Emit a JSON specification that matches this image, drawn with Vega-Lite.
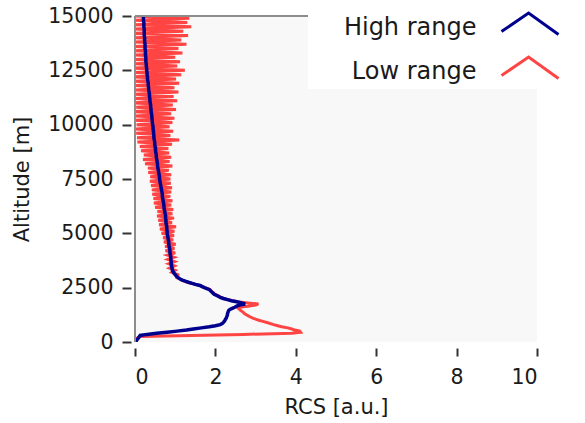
{
  "$schema": "https://vega.github.io/schema/vega-lite/v6.json",
  "width": 402,
  "height": 326,
  "autosize": {"type": "none"},
  "padding": {"left": 135, "top": 16, "right": 48, "bottom": 81},
  "background": "#ffffff",
  "config": {
    "font": "DejaVu Sans",
    "view": {"fill": "#f8f8f8", "stroke": null},
    "axis": {
      "labelFont": "DejaVu Sans",
      "labelFontSize": 20.5,
      "labelColor": "#1a1a1a",
      "titleFont": "DejaVu Sans",
      "titleFontSize": 21,
      "titleFontWeight": "normal",
      "titleColor": "#1a1a1a",
      "tickColor": "#333333",
      "tickWidth": 2,
      "domain": false,
      "grid": false
    }
  },
  "datasets": {
    "profile": [
      {"alt": 0, "high": 0.0, "low": 0.0},
      {"alt": 50, "high": 0.03, "low": 0.02},
      {"alt": 100, "high": 0.05, "low": 0.03},
      {"alt": 150, "high": 0.07, "low": 0.05},
      {"alt": 200, "high": 0.09, "low": 0.07},
      {"alt": 250, "high": 0.11, "low": 0.12},
      {"alt": 300, "high": 0.13, "low": 1.4},
      {"alt": 350, "high": 0.3, "low": 2.7},
      {"alt": 400, "high": 0.54, "low": 3.9},
      {"alt": 450, "high": 0.8, "low": 4.12},
      {"alt": 500, "high": 1.05, "low": 4.1},
      {"alt": 550, "high": 1.28, "low": 3.98},
      {"alt": 600, "high": 1.45, "low": 3.9},
      {"alt": 650, "high": 1.65, "low": 3.8},
      {"alt": 700, "high": 1.85, "low": 3.65},
      {"alt": 750, "high": 2.0, "low": 3.55},
      {"alt": 800, "high": 2.12, "low": 3.45},
      {"alt": 850, "high": 2.17, "low": 3.36},
      {"alt": 900, "high": 2.2, "low": 3.28},
      {"alt": 950, "high": 2.22, "low": 3.18},
      {"alt": 1000, "high": 2.24, "low": 3.08},
      {"alt": 1050, "high": 2.25, "low": 3.0},
      {"alt": 1100, "high": 2.27, "low": 2.93},
      {"alt": 1150, "high": 2.28, "low": 2.87},
      {"alt": 1200, "high": 2.29, "low": 2.82},
      {"alt": 1250, "high": 2.3, "low": 2.77},
      {"alt": 1300, "high": 2.3, "low": 2.73},
      {"alt": 1350, "high": 2.31, "low": 2.7},
      {"alt": 1400, "high": 2.32, "low": 2.67},
      {"alt": 1450, "high": 2.33, "low": 2.63},
      {"alt": 1500, "high": 2.36, "low": 2.6},
      {"alt": 1550, "high": 2.42, "low": 2.57},
      {"alt": 1600, "high": 2.48, "low": 2.6},
      {"alt": 1650, "high": 2.53, "low": 2.8},
      {"alt": 1700, "high": 2.6, "low": 3.0},
      {"alt": 1750, "high": 2.74, "low": 3.07},
      {"alt": 1800, "high": 2.65, "low": 2.8},
      {"alt": 1850, "high": 2.53, "low": 2.55},
      {"alt": 1900, "high": 2.4, "low": 2.42},
      {"alt": 1950, "high": 2.3, "low": 2.32},
      {"alt": 2000, "high": 2.2, "low": 2.2},
      {"alt": 2050, "high": 2.12, "low": 2.15},
      {"alt": 2100, "high": 2.08, "low": 2.08},
      {"alt": 2150, "high": 2.02, "low": 2.05},
      {"alt": 2200, "high": 1.97, "low": 1.98},
      {"alt": 2250, "high": 1.94, "low": 1.96},
      {"alt": 2300, "high": 1.91, "low": 1.92},
      {"alt": 2350, "high": 1.88, "low": 1.9},
      {"alt": 2400, "high": 1.86, "low": 1.87},
      {"alt": 2450, "high": 1.8, "low": 1.82},
      {"alt": 2500, "high": 1.73, "low": 1.72},
      {"alt": 2550, "high": 1.67, "low": 1.68},
      {"alt": 2600, "high": 1.62, "low": 1.6},
      {"alt": 2650, "high": 1.5, "low": 1.52},
      {"alt": 2700, "high": 1.42, "low": 1.4},
      {"alt": 2750, "high": 1.33, "low": 1.3},
      {"alt": 2800, "high": 1.25, "low": 1.22},
      {"alt": 2850, "high": 1.18, "low": 1.15},
      {"alt": 2900, "high": 1.12, "low": 1.12},
      {"alt": 2950, "high": 1.08, "low": 1.05},
      {"alt": 3000, "high": 1.04, "low": 1.06},
      {"alt": 3100, "high": 1.0, "low": 1.07},
      {"alt": 3200, "high": 0.96, "low": 0.92},
      {"alt": 3300, "high": 0.93, "low": 1.0},
      {"alt": 3400, "high": 0.92, "low": 0.86},
      {"alt": 3500, "high": 0.91, "low": 0.98},
      {"alt": 3600, "high": 0.9, "low": 0.84},
      {"alt": 3700, "high": 0.9, "low": 0.98},
      {"alt": 3800, "high": 0.89, "low": 0.82},
      {"alt": 3900, "high": 0.89, "low": 0.97},
      {"alt": 4000, "high": 0.88, "low": 0.81},
      {"alt": 4100, "high": 0.87, "low": 1.0},
      {"alt": 4200, "high": 0.87, "low": 0.76},
      {"alt": 4300, "high": 0.86, "low": 0.98},
      {"alt": 4400, "high": 0.85, "low": 0.75},
      {"alt": 4500, "high": 0.84, "low": 1.01},
      {"alt": 4600, "high": 0.84, "low": 0.72},
      {"alt": 4700, "high": 0.83, "low": 0.95},
      {"alt": 4800, "high": 0.82, "low": 0.7},
      {"alt": 4900, "high": 0.81, "low": 0.97},
      {"alt": 5000, "high": 0.8, "low": 0.66},
      {"alt": 5100, "high": 0.8, "low": 0.98},
      {"alt": 5200, "high": 0.79, "low": 0.62},
      {"alt": 5300, "high": 0.79, "low": 1.02},
      {"alt": 5400, "high": 0.78, "low": 0.6},
      {"alt": 5500, "high": 0.77, "low": 0.92},
      {"alt": 5600, "high": 0.77, "low": 0.58},
      {"alt": 5700, "high": 0.76, "low": 0.97},
      {"alt": 5800, "high": 0.76, "low": 0.55},
      {"alt": 5900, "high": 0.75, "low": 0.93},
      {"alt": 6000, "high": 0.74, "low": 0.56},
      {"alt": 6100, "high": 0.73, "low": 0.95},
      {"alt": 6200, "high": 0.72, "low": 0.5},
      {"alt": 6300, "high": 0.72, "low": 0.9},
      {"alt": 6400, "high": 0.71, "low": 0.47},
      {"alt": 6500, "high": 0.7, "low": 0.93},
      {"alt": 6600, "high": 0.69, "low": 0.46},
      {"alt": 6700, "high": 0.68, "low": 0.88},
      {"alt": 6800, "high": 0.68, "low": 0.43},
      {"alt": 6900, "high": 0.67, "low": 0.9},
      {"alt": 7000, "high": 0.66, "low": 0.42},
      {"alt": 7100, "high": 0.65, "low": 0.92},
      {"alt": 7200, "high": 0.64, "low": 0.4},
      {"alt": 7300, "high": 0.63, "low": 0.89},
      {"alt": 7400, "high": 0.62, "low": 0.37},
      {"alt": 7500, "high": 0.61, "low": 0.88},
      {"alt": 7600, "high": 0.61, "low": 0.38},
      {"alt": 7700, "high": 0.6, "low": 0.9},
      {"alt": 7800, "high": 0.59, "low": 0.33},
      {"alt": 7900, "high": 0.58, "low": 0.84},
      {"alt": 8000, "high": 0.57, "low": 0.32},
      {"alt": 8100, "high": 0.56, "low": 0.93},
      {"alt": 8200, "high": 0.56, "low": 0.25},
      {"alt": 8300, "high": 0.55, "low": 0.86},
      {"alt": 8400, "high": 0.54, "low": 0.2},
      {"alt": 8500, "high": 0.53, "low": 0.9},
      {"alt": 8600, "high": 0.53, "low": 0.22},
      {"alt": 8700, "high": 0.52, "low": 0.85},
      {"alt": 8800, "high": 0.51, "low": 0.15},
      {"alt": 8900, "high": 0.51, "low": 0.83},
      {"alt": 9000, "high": 0.5, "low": 0.12},
      {"alt": 9100, "high": 0.49, "low": 0.92},
      {"alt": 9200, "high": 0.49, "low": 0.06},
      {"alt": 9300, "high": 0.48, "low": 1.1},
      {"alt": 9400, "high": 0.47, "low": 0.05},
      {"alt": 9500, "high": 0.47, "low": 0.88},
      {"alt": 9600, "high": 0.46, "low": 0.03},
      {"alt": 9700, "high": 0.46, "low": 0.95},
      {"alt": 9800, "high": 0.45, "low": 0.02},
      {"alt": 9900, "high": 0.45, "low": 0.86},
      {"alt": 10000, "high": 0.44, "low": 0.04},
      {"alt": 10100, "high": 0.43, "low": 0.93},
      {"alt": 10200, "high": 0.43, "low": 0.0},
      {"alt": 10300, "high": 0.42, "low": 0.98},
      {"alt": 10400, "high": 0.42, "low": 0.02},
      {"alt": 10500, "high": 0.41, "low": 0.9},
      {"alt": 10600, "high": 0.4, "low": -0.02},
      {"alt": 10700, "high": 0.4, "low": 1.02},
      {"alt": 10800, "high": 0.39, "low": 0.03},
      {"alt": 10900, "high": 0.39, "low": 0.94},
      {"alt": 11000, "high": 0.38, "low": -0.03},
      {"alt": 11100, "high": 0.37, "low": 1.05},
      {"alt": 11200, "high": 0.37, "low": 0.01},
      {"alt": 11300, "high": 0.36, "low": 0.96},
      {"alt": 11400, "high": 0.36, "low": -0.02},
      {"alt": 11500, "high": 0.35, "low": 1.08},
      {"alt": 11600, "high": 0.34, "low": 0.02},
      {"alt": 11700, "high": 0.34, "low": 0.98},
      {"alt": 11800, "high": 0.33, "low": -0.03},
      {"alt": 11900, "high": 0.33, "low": 1.1},
      {"alt": 12000, "high": 0.32, "low": 0.0},
      {"alt": 12100, "high": 0.31, "low": 1.02},
      {"alt": 12200, "high": 0.31, "low": -0.02},
      {"alt": 12300, "high": 0.3, "low": 1.15},
      {"alt": 12400, "high": 0.3, "low": 0.01},
      {"alt": 12500, "high": 0.29, "low": 1.24},
      {"alt": 12600, "high": 0.29, "low": -0.03},
      {"alt": 12700, "high": 0.28, "low": 1.05},
      {"alt": 12800, "high": 0.28, "low": 0.0},
      {"alt": 12900, "high": 0.27, "low": 1.12},
      {"alt": 13000, "high": 0.27, "low": -0.02},
      {"alt": 13100, "high": 0.27, "low": 1.0},
      {"alt": 13200, "high": 0.26, "low": 0.01},
      {"alt": 13300, "high": 0.26, "low": 1.18},
      {"alt": 13400, "high": 0.26, "low": -0.03},
      {"alt": 13500, "high": 0.25, "low": 1.08},
      {"alt": 13600, "high": 0.25, "low": 0.0},
      {"alt": 13700, "high": 0.25, "low": 1.28},
      {"alt": 13800, "high": 0.24, "low": -0.02},
      {"alt": 13900, "high": 0.24, "low": 1.15},
      {"alt": 14000, "high": 0.24, "low": 0.01},
      {"alt": 14100, "high": 0.23, "low": 1.32},
      {"alt": 14200, "high": 0.23, "low": -0.03},
      {"alt": 14300, "high": 0.23, "low": 1.2},
      {"alt": 14400, "high": 0.23, "low": 0.0},
      {"alt": 14500, "high": 0.22, "low": 1.4},
      {"alt": 14600, "high": 0.22, "low": -0.02},
      {"alt": 14700, "high": 0.22, "low": 1.3},
      {"alt": 14800, "high": 0.21, "low": 0.01},
      {"alt": 14900, "high": 0.21, "low": 1.35},
      {"alt": 15000, "high": 0.21, "low": 0.0}
    ]
  },
  "data": {"name": "profile"},
  "layer": [
    {
      "mark": {"type": "line", "strokeWidth": 3, "clip": true},
      "encoding": {
        "x": {
          "field": "low",
          "type": "quantitative",
          "scale": {"domain": [0, 10], "nice": false, "zero": false},
          "axis": {"title": "RCS [a.u.]", "values": [0, 2, 4, 6, 8, 10], "offset": 6, "tickSize": 8, "labelPadding": 11, "titlePadding": 9}
        },
        "y": {
          "field": "alt",
          "type": "quantitative",
          "scale": {"domain": [0, 15000], "nice": false},
          "axis": {"title": "Altitude [m]", "format": "d", "values": [0, 2500, 5000, 7500, 10000, 12500, 15000], "offset": 4, "tickSize": 9, "labelPadding": 9, "titlePadding": 15}
        },
        "order": {"field": "alt", "type": "quantitative"},
        "color": {
          "datum": "Low range",
          "scale": {"domain": ["High range", "Low range"], "range": ["#00008f", "#ff4444"]},
          "legend": {
            "title": null,
            "orient": "none",
            "legendX": 173,
            "legendY": -8,
            "labelFont": "DejaVu Sans",
            "labelFontSize": 24,
            "labelColor": "#1a1a1a",
            "labelAlign": "right",
            "labelOffset": -69.5,
            "symbolOffset": 202,
            "symbolType": "M-2,0.25L-0.1,-1.05L2,0.45",
            "symbolSize": 812,
            "symbolStrokeWidth": 3,
            "symbolFillColor": "transparent",
            "fillColor": "#ffffff",
            "padding": 4,
            "rowPadding": 10
          }
        }
      }
    },
    {
      "mark": {"type": "line", "strokeWidth": 3.5, "clip": true},
      "encoding": {
        "x": {"field": "high", "type": "quantitative"},
        "y": {"field": "alt", "type": "quantitative"},
        "order": {"field": "alt", "type": "quantitative"},
        "color": {"datum": "High range"}
      }
    },
    {
      "mark": {"type": "rule", "color": "#8c8c8c", "strokeWidth": 1.5},
      "encoding": {"x": {"datum": 0}}
    },
    {
      "mark": {"type": "rule", "color": "#8c8c8c", "strokeWidth": 1.5},
      "encoding": {"y": {"datum": 15000}}
    }
  ]
}
